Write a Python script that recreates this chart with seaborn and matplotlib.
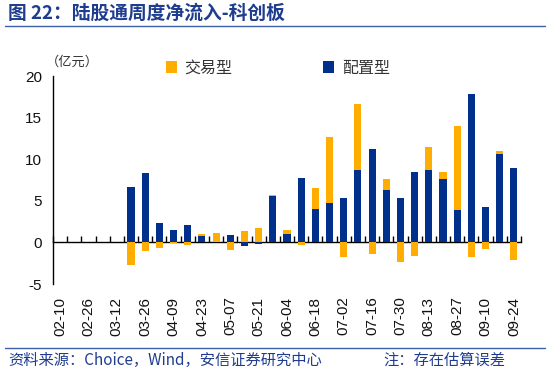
import numpy as np
import pandas as pd
import matplotlib
matplotlib.use("Agg")
import matplotlib.pyplot as plt
import seaborn as sns
from matplotlib.patches import Patch
from matplotlib.lines import Line2D

# ---- data ----
dates = ["02-10", "02-19", "02-26", "03-05", "03-12", "03-19", "03-26", "04-02",
         "04-09", "04-16", "04-23", "04-30", "05-07", "05-14", "05-21", "05-28",
         "06-04", "06-11", "06-18", "06-25", "07-02", "07-09", "07-16", "07-23",
         "07-30", "08-06", "08-13", "08-20", "08-27", "09-03", "09-10", "09-17",
         "09-24"]
allocation = [0, 0, 0, 0, 0, 6.68, 8.37, 2.32, 1.44, 2.08, 0.72, 0.0, 0.88, -0.48,
              -0.24, 5.6, 1.0, 7.8, 3.96, 4.76, 5.28, 8.69, 11.2, 6.33, 5.28, 8.49,
              8.65, 7.6, 3.88, 17.86, 4.28, 10.57, 8.89]
trading = [0, 0, 0, 0, 0, -2.73, -1.0, -0.73, -0.1, -0.36, 0.32, 1.12, -0.88, 1.4,
           1.76, 0.1, 0.48, -0.36, 2.6, 7.9, -1.73, 7.9, -1.4, 1.32, -2.33, -1.6,
           2.8, 0.88, 10.1, -1.73, -0.84, 0.36, -2.17]
series_names = ["交易型", "配置型"]
y_ticks = [-5, 0, 5, 10, 15, 20]

BLUE = "#00308C"
ORANGE = "#FFAD00"
TITLE_BLUE = "#1F3D8F"

sns.set_theme(style="white")
plt.rcParams["font.family"] = ["Noto Sans CJK SC", "DejaVu Sans"]
plt.rcParams["axes.unicode_minus"] = False

df = pd.DataFrame({"date": dates, "allocation": allocation, "trading": trading})
alloc_arr = np.array(allocation)
trade_arr = np.array(trading)
trade_bottom = np.where(trade_arr >= 0, np.maximum(alloc_arr, 0), np.minimum(alloc_arr, 0))

fig = plt.figure(figsize=(5.5, 3.74), dpi=100)
ax = fig.add_axes([53 / 550, 1 - 284 / 374, 468 / 550, 208 / 374])

sns.barplot(data=df, x="date", y="allocation", order=dates, color=BLUE,
            width=0.5, errorbar=None, saturation=1, ax=ax, linewidth=0)
sns.barplot(data=df, x="date", y="trading", order=dates, color=ORANGE,
            width=0.5, errorbar=None, saturation=1, ax=ax, linewidth=0,
            bottom=trade_bottom)

ax.set_xlim(-0.5, len(dates) - 0.5)
ax.set_ylim(-5, 20)
ax.set_yticks(y_ticks)
ax.set_yticklabels([str(v) for v in y_ticks], fontsize=11,
                   family=["Liberation Sans", "DejaVu Sans"], color="#111111")
ax.set_xticks(range(0, len(dates), 2))
ax.set_xticklabels(dates[::2], rotation=90, fontsize=11,
                   family=["Liberation Sans", "DejaVu Sans"], color="#111111")
ax.tick_params(axis="x", length=0, pad=9)
ax.tick_params(axis="y", direction="in", length=4, width=1, color="black", pad=8)
ax.set_xlabel("")
ax.set_ylabel("")
for s in ["top", "right", "bottom"]:
    ax.spines[s].set_visible(False)
ax.spines["left"].set_color("black")
ax.spines["left"].set_linewidth(1)

# zero line with category-boundary ticks
sec = ax.secondary_xaxis(5 / 25)
sec.set_xticks(np.arange(-0.5, len(dates), 1))
sec.tick_params(axis="x", direction="in", length=4, width=1, color="black",
                labelbottom=False, labeltop=False)
sec.spines["bottom"].set_color("black")
sec.spines["bottom"].set_linewidth(1)

fig.text(46 / 550, 1 - 62 / 374, "（亿元）", fontsize=9.5, color="#333333",
         va="center", ha="left")

handles = [Patch(facecolor=ORANGE, edgecolor="none"), Patch(facecolor=BLUE, edgecolor="none")]
fig.legend(handles, series_names, loc="center", bbox_to_anchor=(0.505, 1 - 68 / 374),
           ncol=2, frameon=False, fontsize=11.5, handlelength=0.7, handleheight=0.7,
           handletextpad=0.45, columnspacing=5.7, labelcolor="#333333")

# title and footer
fig.text(8 / 550, 1 - 13 / 374, "图 22：陆股通周度净流入-科创板", fontsize=13.5,
         fontweight="bold", color=TITLE_BLUE, va="center", ha="left")
fig.add_artist(Line2D([5 / 550, 545 / 550], [1 - 26 / 374, 1 - 26 / 374],
                      color="#3C5FA8", linewidth=1))
fig.add_artist(Line2D([5 / 550, 545 / 550], [1 - 348 / 374, 1 - 348 / 374],
                      color="#3C5FA8", linewidth=1))
fig.text(8 / 550, 1 - 360 / 374, "资料来源：Choice，Wind，安信证券研究中心", fontsize=11,
         color=TITLE_BLUE, va="center", ha="left")
fig.text(383 / 550, 1 - 360 / 374, "注：存在估算误差", fontsize=11,
         color=TITLE_BLUE, va="center", ha="left")

fig.savefig("out.png", dpi=100)
